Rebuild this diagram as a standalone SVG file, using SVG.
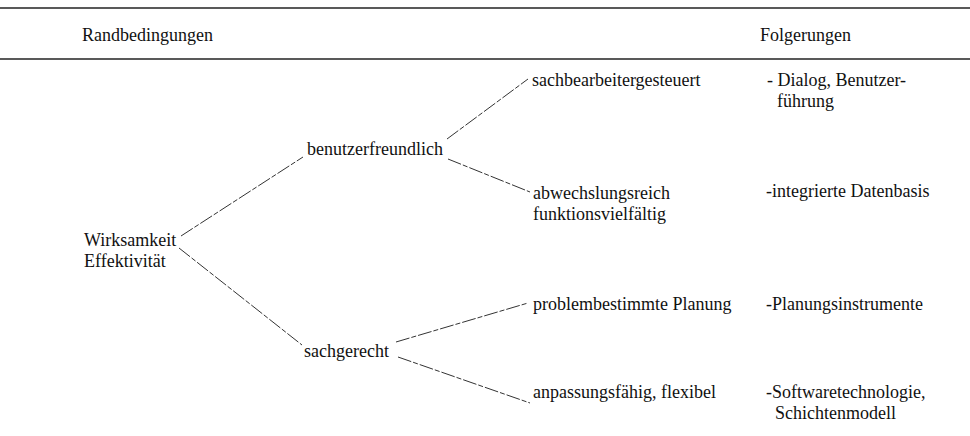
<svg xmlns="http://www.w3.org/2000/svg" width="970" height="436" viewBox="0 0 970 436">
  <style>
    .t { font-family: "Liberation Serif", "Times New Roman", serif; font-size: 18px; fill: #111; }
    .rule { stroke: #222; stroke-width: 1.3; fill: none; }
    .conn { stroke: #333; stroke-width: 1; fill: none; stroke-dasharray: 14 2 5 2; }
  </style>
  <rect width="970" height="436" fill="#ffffff"/>

  <g id="rules">
    <line class="rule" x1="0" y1="8" x2="970" y2="8"/>
    <line class="rule" x1="0" y1="59" x2="970" y2="59"/>
  </g>

  <g id="header-randbedingungen"><text class="t" x="82" y="41">Randbedingungen</text></g>
  <g id="header-folgerungen"><text class="t" x="760" y="41">Folgerungen</text></g>

  <g id="connectors">
    <line class="conn" x1="181" y1="236" x2="303" y2="157"/>
    <line class="conn" x1="179" y1="248" x2="302" y2="345"/>
    <line class="conn" x1="447" y1="139" x2="528" y2="79"/>
    <line class="conn" x1="448" y1="159" x2="530" y2="192"/>
    <line class="conn" x1="396" y1="342" x2="528" y2="303"/>
    <line class="conn" x1="398" y1="357" x2="530" y2="403"/>
  </g>

  <g id="node-wirksamkeit">
    <text class="t" x="84" y="246">Wirksamkeit</text>
    <text class="t" x="84" y="267">Effektivität</text>
  </g>
  <g id="node-benutzerfreundlich"><text class="t" x="307" y="155">benutzerfreundlich</text></g>
  <g id="node-sachgerecht"><text class="t" x="304" y="357">sachgerecht</text></g>
  <g id="node-sachbearbeitergesteuert"><text class="t" x="532" y="86">sachbearbeitergesteuert</text></g>
  <g id="node-abwechslungsreich">
    <text class="t" x="533" y="199">abwechslungsreich</text>
    <text class="t" x="533" y="220">funktionsvielfältig</text>
  </g>
  <g id="node-problembestimmte"><text class="t" x="533" y="310">problembestimmte Planung</text></g>
  <g id="node-anpassungsfaehig"><text class="t" x="533" y="398">anpassungsfähig, flexibel</text></g>

  <g id="folg-dialog">
    <text class="t" x="767" y="86">- Dialog, Benutzer-</text>
    <text class="t" x="777" y="107">führung</text>
  </g>
  <g id="folg-datenbasis"><text class="t" x="766" y="197">-integrierte Datenbasis</text></g>
  <g id="folg-planung"><text class="t" x="766" y="310">-Planungsinstrumente</text></g>
  <g id="folg-software">
    <text class="t" x="766" y="398">-Softwaretechnologie,</text>
    <text class="t" x="775" y="419">Schichtenmodell</text>
  </g>
</svg>
